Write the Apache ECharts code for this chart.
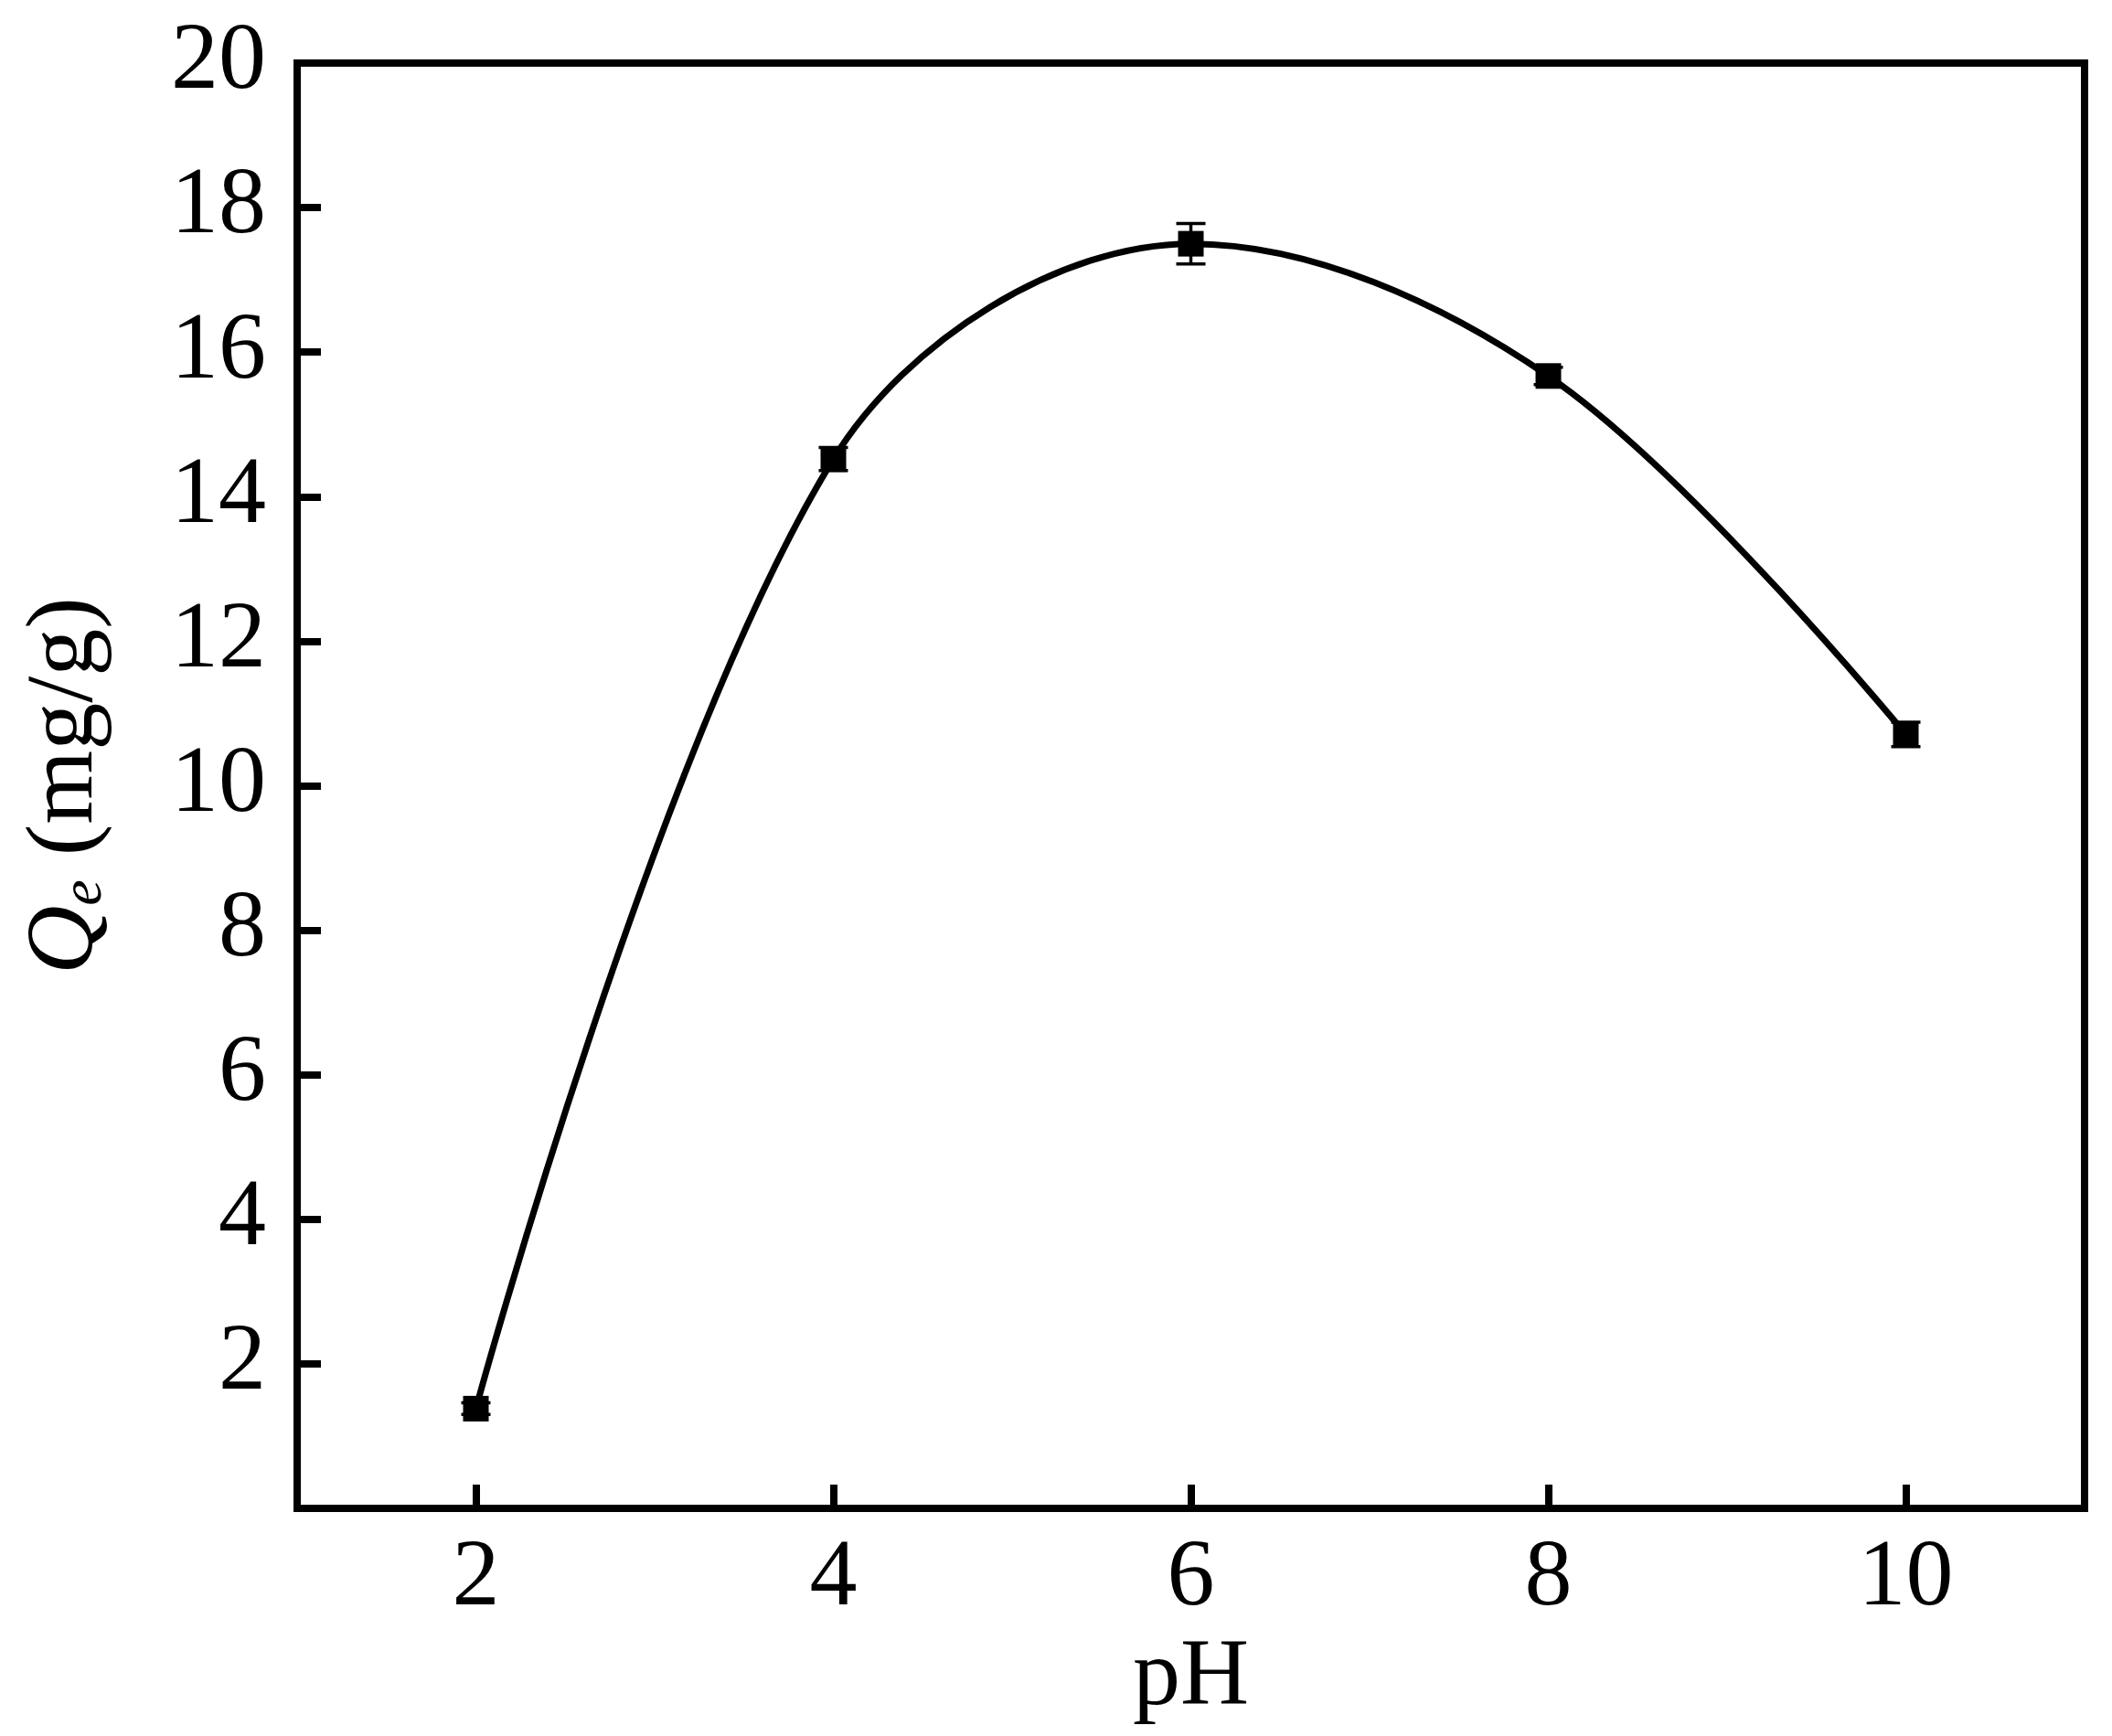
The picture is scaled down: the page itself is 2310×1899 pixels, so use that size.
<!DOCTYPE html>
<html style="height: 100%;width: 100%">
<head>
    <meta charset="UTF-8">
    <title>Qe vs pH</title>
    <script type="text/javascript" src="https://cdn.jsdelivr.net/npm/echarts@6/dist/echarts.min.js"></script>
    <style>
    html, body { margin: 0; padding: 0; background: #fff; }
    #main { width: 2310px; height: 1899px; }
</style>
</head>
<body>
<div id="main"></div>
<script type="text/javascript">
    // 数据
    var phValues = [2, 4, 6, 8, 10];
    var qeValues = [1.38, 14.52, 17.50, 15.67, 10.71];
    var qeErrors = [0.08, 0.16, 0.28, 0.12, 0.17];

    var xTicks = [2, 4, 6, 8, 10];
    var yTicks = [2, 4, 6, 8, 10, 12, 14, 16, 18, 20];

    var serif = '"Liberation Serif", "Times New Roman", serif';

    var lineData = phValues.map(function (x, i) { return [x, qeValues[i]]; });
    var errData = phValues.map(function (x, i) { return [x, qeValues[i], qeErrors[i]]; });

    var myChart = echarts.init(document.getElementById('main'));

    var option = {
        backgroundColor: '#fff',
        animation: false,
        grid: {
            left: 325, right: 30, top: 69, bottom: 249,
            show: true, borderColor: '#000', borderWidth: 8
        },
        xAxis: {
            type: 'value',
            min: 1, max: 11,
            name: 'pH',
            nameLocation: 'middle',
            nameGap: 125,
            nameTextStyle: { fontFamily: serif, fontSize: 104, color: '#000' },
            splitLine: { show: false },
            axisLine: { show: true, lineStyle: { color: '#000', width: 8 } },
            axisTick: { show: true, inside: true, length: 26, customValues: xTicks,
                lineStyle: { color: '#000', width: 8 } },
            axisLabel: { customValues: xTicks, margin: 26, fontFamily: serif, fontSize: 104, color: '#000' }
        },
        yAxis: {
            type: 'value',
            min: 0, max: 20,
            name: '{q|Q}{sub|e}{n| (mg/g)}',
            nameLocation: 'middle',
            nameGap: 200,
            nameTextStyle: {
                fontFamily: serif, fontSize: 104, color: '#000',
                rich: {
                    q: { fontFamily: serif, fontSize: 104, fontStyle: 'italic', lineHeight: 104, color: '#000' },
                    sub: { fontFamily: serif, fontSize: 64, fontStyle: 'italic', lineHeight: 10, verticalAlign: 'bottom', color: '#000' },
                    n: { fontFamily: serif, fontSize: 104, lineHeight: 104, color: '#000' }
                }
            },
            splitLine: { show: false },
            axisLine: { show: true, lineStyle: { color: '#000', width: 8 } },
            axisTick: { show: true, inside: true, length: 26, customValues: yTicks,
                lineStyle: { color: '#000', width: 8 } },
            axisLabel: { customValues: yTicks, margin: 34, fontFamily: serif, fontSize: 104, color: '#000' }
        },
        series: [
            {
                type: 'line',
                data: lineData,
                smooth: 0.35,
                symbol: 'rect',
                symbolSize: 28,
                showAllSymbol: true,
                lineStyle: { color: '#000', width: 7 },
                itemStyle: { color: '#000' },
                z: 3
            },
            {
                // 误差棒
                type: 'custom',
                data: errData,
                z: 4,
                renderItem: function (params, api) {
                    var x = api.value(0), y = api.value(1), e = api.value(2);
                    var hi = api.coord([x, y + e]);
                    var lo = api.coord([x, y - e]);
                    var w = 16;
                    var st = { stroke: '#000', lineWidth: 3.5 };
                    return {
                        type: 'group',
                        children: [
                            { type: 'line', shape: { x1: hi[0], y1: hi[1], x2: lo[0], y2: lo[1] }, style: st },
                            { type: 'line', shape: { x1: hi[0] - w, y1: hi[1], x2: hi[0] + w, y2: hi[1] }, style: st },
                            { type: 'line', shape: { x1: lo[0] - w, y1: lo[1], x2: lo[0] + w, y2: lo[1] }, style: st }
                        ]
                    };
                }
            }
        ]
    };

    myChart.setOption(option);
</script>
</body>
</html>
